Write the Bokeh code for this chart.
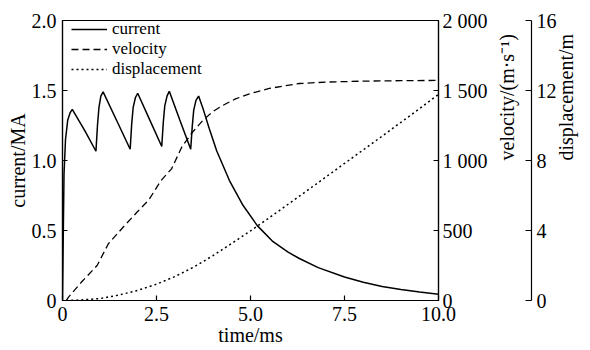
import math
from bokeh.plotting import figure
from bokeh.models import Range1d, LinearAxis, FixedTicker, Legend, LegendItem, Title
from bokeh.embed import file_html
from bokeh.resources import INLINE

# ---- data ----
t_cur = [0, 0.04, 0.08, 0.14, 0.20, 0.26,
         0.60, 0.89, 0.93, 0.97, 1.02, 1.08,
         1.45, 1.80, 1.84, 1.88, 1.94, 2.00,
         2.32, 2.64, 2.68, 2.72, 2.78, 2.84,
         3.12, 3.41, 3.45, 3.49, 3.55, 3.62,
         3.75, 3.90, 4.10, 4.44, 4.80, 5.18, 5.60, 6.00, 6.30, 6.80,
         7.50, 8.00, 8.50, 9.00, 9.50, 10.0]
current = [0, 0.90, 1.15, 1.29, 1.34, 1.365,
           1.21, 1.066, 1.25, 1.38, 1.46, 1.49,
           1.28, 1.08, 1.26, 1.38, 1.45, 1.48,
           1.29, 1.10, 1.27, 1.39, 1.46, 1.495,
           1.29, 1.08, 1.24, 1.36, 1.43, 1.46,
           1.36, 1.23, 1.07, 0.857, 0.68, 0.535, 0.42, 0.345, 0.30, 0.235,
           0.168, 0.13, 0.10, 0.078, 0.06, 0.045]

t_vel = [0.10, 0.16, 0.50, 0.92, 1.22, 1.60, 1.98, 2.30, 2.62, 2.90, 3.17,
         3.45, 3.73, 4.00, 4.26, 4.60, 4.97, 5.50, 6.30, 7.00, 8.00, 9.00, 10.0]
velocity = [0, 24, 130, 250, 405, 520, 630, 720, 857, 940, 1095,
            1200, 1286, 1350, 1393, 1440, 1476, 1515, 1550, 1560, 1567, 1570, 1572]

t_disp = [0.1, 0.5, 1.0, 1.5, 2.0, 2.5, 3.0, 3.5, 4.0, 4.5, 5.0, 5.5, 6.0,
          6.5, 7.0, 7.5, 8.0, 8.5, 9.0, 9.5, 10.0]
displacement = [0, 0.03, 0.11, 0.31, 0.58, 0.93, 1.38, 1.92, 2.56, 3.26, 3.98,
                4.73, 5.50, 6.27, 7.05, 7.83, 8.61, 9.39, 10.18, 10.97, 11.78]

x_ticks = [0, 2.5, 5, 7.5, 10]
x_labels = ["0", "2.5", "5.0", "7.5", "10.0"]
cur_ticks = [0, 0.5, 1, 1.5, 2]
cur_labels = ["0", "0.5", "1.0", "1.5", "2.0"]
vel_ticks = [0, 500, 1000, 1500, 2000]
vel_labels = ["0", "500", "1 000", "1 500", "2 000"]
disp_ticks = [0, 4, 8, 12, 16]
disp_labels = ["0", "4", "8", "12", "16"]

x_title = "time/ms"
cur_title = "current/MA"
vel_title = "velocity/(m·s⁻¹)"
disp_title = "displacement/m"

FONT = "Liberation Serif"
TICK_FS = "20px"
LAB_FS = "20px"

p = figure(width=590, height=350, output_backend="svg", toolbar_location=None,
           x_range=Range1d(0, 10), y_range=Range1d(0, 2),
           min_border_left=62, min_border_right=150,
           min_border_top=20, min_border_bottom=50)
p.extra_y_ranges = {"vel": Range1d(0, 2000), "disp": Range1d(0, 16)}
p.xgrid.visible = False
p.ygrid.visible = False
p.outline_line_color = "black"
p.outline_line_width = 1.2
p.background_fill_color = "white"
p.border_fill_color = "white"


def style(ax, ticks, labels, tin=5, tout=0, standoff=5, lab_standoff=5):
    ax.ticker = FixedTicker(ticks=ticks)
    ax.major_label_overrides = dict(zip(ticks, labels))
    ax.major_tick_in = tin
    ax.major_tick_out = tout
    ax.minor_tick_line_color = None
    ax.axis_line_color = "black"
    ax.axis_line_width = 1.2
    ax.major_tick_line_color = "black"
    ax.major_tick_line_width = 1.2
    ax.major_label_text_font = FONT
    ax.major_label_text_font_size = TICK_FS
    ax.major_label_text_color = "black"
    ax.major_label_standoff = standoff
    ax.axis_label_text_font = FONT
    ax.axis_label_text_font_size = LAB_FS
    ax.axis_label_text_font_style = "normal"
    ax.axis_label_text_color = "black"
    ax.axis_label_standoff = lab_standoff


style(p.xaxis[0], x_ticks, x_labels, standoff=6, lab_standoff=0)
p.xaxis[0].axis_label = x_title
style(p.yaxis[0], cur_ticks, cur_labels, standoff=6)

# left title, shifted up a little as in the reference
p.add_layout(Title(text=cur_title, align="center", offset=16, standoff=0,
                   text_font=FONT, text_font_size=LAB_FS,
                   text_font_style="normal", text_color="black"), "left")

vel_axis = LinearAxis(y_range_name="vel", axis_label=vel_title)
style(vel_axis, vel_ticks, vel_labels, standoff=4, lab_standoff=16)
p.add_layout(vel_axis, "right")

disp_axis = LinearAxis(y_range_name="disp", axis_label=disp_title)
style(disp_axis, disp_ticks, disp_labels, tin=6, standoff=5, lab_standoff=6)
p.add_layout(disp_axis, "right")

# right-side axis titles read bottom-to-top, as on the left
for ax in (vel_axis, disp_axis):
    try:
        ax.axis_label_orientation = math.pi / 2
    except Exception:
        pass

r_cur = p.line(t_cur, current, line_color="black", line_width=1.5)
r_vel = p.line(t_vel, velocity, y_range_name="vel", line_color="black",
               line_width=1.3, line_dash="7 4")
r_disp = p.line(t_disp, displacement, y_range_name="disp", line_color="black",
                line_width=1.5, line_dash="2 3")

legend = Legend(items=[LegendItem(label="current", renderers=[r_cur]),
                       LegendItem(label="velocity", renderers=[r_vel]),
                       LegendItem(label="displacement", renderers=[r_disp])],
                location=(9, 221), padding=0, margin=0, spacing=0,
                glyph_width=36, glyph_height=18, label_height=18,
                label_standoff=5, border_line_color=None,
                background_fill_alpha=0,
                label_text_font=FONT, label_text_font_size="17px",
                label_text_color="black")
p.add_layout(legend)

open("out.html", "w").write(file_html(p, INLINE))
